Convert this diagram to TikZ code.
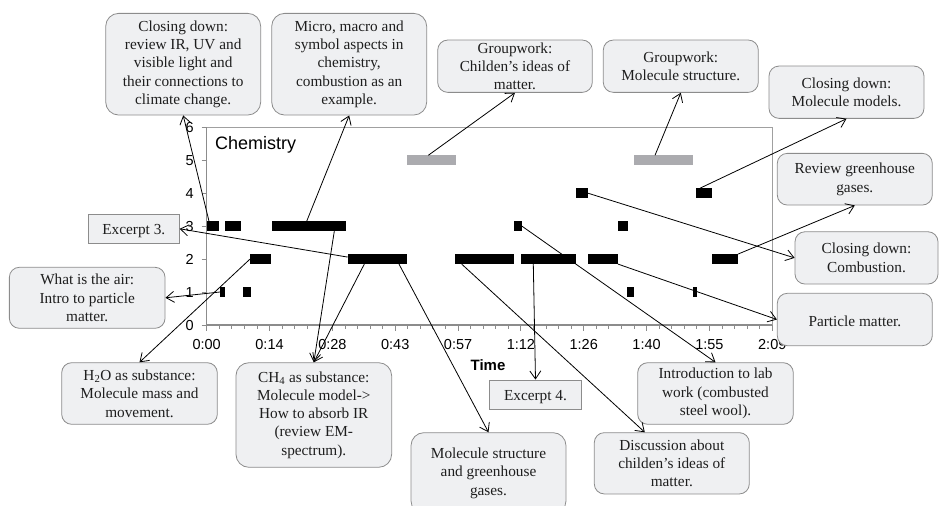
\documentclass[tikz,border=0pt]{standalone}
\usepackage{fontspec}
\setmainfont{Liberation Serif}
\newfontfamily\chartfont{Liberation Sans}
\usetikzlibrary{arrows.meta,calc}

\definecolor{boxfill}{RGB}{239,240,242}
\definecolor{boxline}{RGB}{140,140,140}
\definecolor{axisgray}{RGB}{140,140,140}
\definecolor{framegray}{RGB}{160,160,160}
\definecolor{bargray}{RGB}{171,171,175}
\definecolor{notetext}{RGB}{30,30,30}

\begin{document}
\begin{tikzpicture}[x=1pt,y=-1pt,
  note/.style={draw=boxline, fill=boxfill, rounded corners=10pt, line width=0.8pt,
    inner sep=0pt, align=center, text=notetext,
    font=\fontsize{15.3}{18.3}\selectfont,
    execute at begin node={\rule{0pt}{14.5pt}}},
  tag/.style={note, rounded corners=0pt},
  blk/.style={fill=black, inner sep=0pt, outer sep=0pt, minimum height=10pt, anchor=west},
  gblk/.style={blk, fill=bargray},
  link/.style={draw=black, line width=0.8pt, -{Straight Barb[length=8pt,width=11pt]}},
  ticklab/.style={font=\chartfont\fontsize{14.5}{16}\selectfont, inner sep=0pt},
]
\useasboundingbox (0,0) rectangle (940,506);
\clip (0,0) rectangle (940,506);

% ---- plot frame and axes ----
\draw[framegray, line width=0.8pt] (206.7,127.3) -- (772.3,127.3) -- (772.3,325);
\draw[axisgray, line width=1.3pt] (206.7,127.3) -- (206.7,325) -- (772.3,325);
\foreach \i in {0,...,45} {
  \pgfmathsetmacro\tx{206.7+\i*12.568}
  \pgfmathsetmacro\tl{mod(\i,5)==0 ? 5.5 : 3.5}
  \draw[axisgray, line width=0.9pt] (\tx,325) -- (\tx,325+\tl);
}
\foreach \k in {0,...,6} {
  \pgfmathsetmacro\yc{325-32.95*\k}
  \draw[axisgray, line width=0.9pt] (201.7,\yc) -- (206.7,\yc);
  \node[ticklab, anchor=base east] (ylab\k) at (194,\yc+5.1) {\k};
}
\foreach \lab [count=\i from 0] in {0:00,0:14,0:28,0:43,0:57,1:12,1:26,1:40,1:55,2:09} {
  \pgfmathsetmacro\tx{206.7+\i*62.84}
  \node[ticklab, anchor=base] (xlab\i) at (\tx,349.3) {\lab};
}
\node[font=\chartfont\fontsize{18}{20}\selectfont, inner sep=0pt, anchor=base west] (title) at (215,149.3) {Chemistry};
\node[font=\chartfont\bfseries\fontsize{15}{17}\selectfont, inner sep=0pt, anchor=base] (xtitle) at (488,370.7) {Time};

% ---- activity bars ----
% level 5 (grey)
\node[gblk, minimum width=48.7pt] (g5a) at (407.3,160.3) {};
\node[gblk, minimum width=58.7pt] (g5b) at (634,160.3) {};
% level 4
\node[blk, minimum width=12pt] (b4a) at (576,193.2) {};
\node[blk, minimum width=16pt] (b4b) at (696,193.2) {};
% level 3
\node[blk, minimum width=12.3pt] (b3a) at (206.7,226.2) {};
\node[blk, minimum width=16pt] (b3b) at (225,226.2) {};
\node[blk, minimum width=73.7pt] (b3c) at (272.3,226.2) {};
\node[blk, minimum width=8pt] (b3d) at (514,226.2) {};
\node[blk, minimum width=10pt] (b3e) at (618,226.2) {};
% level 2
\node[blk, minimum width=21pt] (b2a) at (250,259.1) {};
\node[blk, minimum width=59.3pt] (b2b) at (347.7,259.1) {};
\node[blk, minimum width=59pt] (b2c) at (455,259.1) {};
\node[blk, minimum width=55pt] (b2d) at (521,259.1) {};
\node[blk, minimum width=30pt] (b2f) at (588,259.1) {};
\node[blk, minimum width=26pt] (b2g) at (712,259.1) {};
% level 1
\node[blk, minimum width=5pt] (b1a) at (220,292) {};
\node[blk, minimum width=7.7pt] (b1b) at (243.3,292) {};
\node[blk, minimum width=7pt] (b1c) at (627,292) {};
\node[blk, minimum width=4.6pt] (b1d) at (692.7,292) {};

% ---- callouts ----
\node[note, rounded corners=13pt, minimum width=155pt, minimum height=101.7pt] (n1) at (183.2,64.2)
  {Closing down:\\ review IR, UV and\\ visible light and\\ their connections to\\ climate change.};
\node[note, rounded corners=13pt, minimum width=155pt, minimum height=101.7pt] (n2) at (349.2,64.2)
  {Micro, macro and\\ symbol aspects in\\ chemistry,\\ combustion as an\\ example.};
\node[note, minimum width=154.6pt, minimum height=52.3pt] (n3) at (515,66.2)
  {Groupwork:\\ Childen’s ideas of\\ matter.};
\node[note, minimum width=155pt, minimum height=52.3pt] (n4) at (680.8,66.2)
  {Groupwork:\\ Molecule structure.};
\node[note, minimum width=155pt, minimum height=52.3pt] (n5) at (846.5,92.2)
  {Closing down:\\ Molecule models.};
\node[note, minimum width=155pt, minimum height=51.7pt] (n6) at (854.8,179.2)
  {Review greenhouse\\ gases.};
\node[note, minimum width=143pt, minimum height=52.3pt] (n7) at (866.5,257.9)
  {Closing down:\\ Combustion.};
\node[note, minimum width=155pt, minimum height=52.4pt] (n8) at (854.8,319.5)
  {Particle matter.};
\node[tag, minimum width=91pt, minimum height=29pt] (x3) at (133.8,228.8) {Excerpt 3.};
\node[note, minimum width=155.7pt, minimum height=61pt] (n10) at (87.2,297.8)
  {What is the air:\\ Intro to particle\\ matter.};
\node[note, minimum width=155.6pt, minimum height=61.6pt] (n11) at (139.5,393.5)
  {H\textsubscript{2}O as substance:\\ Molecule mass and\\ movement.};
\node[note, rounded corners=13pt, minimum width=155.7pt, minimum height=104.6pt] (n12) at (313.8,415)
  {CH\textsubscript{4} as substance:\\ Molecule model->\\ How to absorb IR\\ (review EM-\\ spectrum).};
\node[note, rounded corners=13pt, minimum width=155pt, minimum height=81.3pt] (n13) at (488.5,473.3)
  {Molecule structure\\ and greenhouse\\ gases.};
\node[tag, minimum width=92.4pt, minimum height=29pt] (x4) at (535.5,394.5) {Excerpt 4.};
\node[note, minimum width=155.6pt, minimum height=61.6pt] (n15) at (715.5,393.5)
  {Introduction to lab\\ work (combusted\\ steel wool).};
\node[note, minimum width=155pt, minimum height=61.3pt] (n16) at (671.8,463.3)
  {Discussion about\\ childen’s ideas of\\ matter.};

% ---- connectors from activities to their descriptions ----
\draw[link] ([xshift=2.3pt]b3a.north west) -- (n1.south);
\draw[link] ([xshift=34.4pt]b3c.north west) -- (n2.south);
\draw[link] ([xshift=21pt]g5a.north west) -- (n3.south);
\draw[link] ([xshift=21pt]g5b.north west) -- (n4.south);
\draw[link] ([xshift=4pt]b4b.north west) -- (n5.south);
\draw[link] (b2g.north east) -- (n6.south);
\draw[link] (b4a.east) -- (n7.west);
\draw[link] (b2f.south east) -- (n8.west);
\draw[link] ([yshift=2pt]b2b.west) -- (x3.east);
\draw[link] (b1a.west) -- (n10.east);
\draw[link] (b2a.west) -- (n11.north);
\draw[link] ([xshift=62pt]b3c.south west) -- (n12.north);
\draw[link] ([xshift=16.6pt]b2b.south west) -- (n12.north);
\draw[link] ([xshift=51.3pt]b2b.south west) -- (n13.north);
\draw[link] ([xshift=12.3pt]b2d.south west) -- (x4.north);
\draw[link] (b3d.east) -- (n15.north);
\draw[link] ([xshift=6.7pt]b2c.south west) -- ([xshift=-27pt]n16.north);
\end{tikzpicture}
\end{document}
